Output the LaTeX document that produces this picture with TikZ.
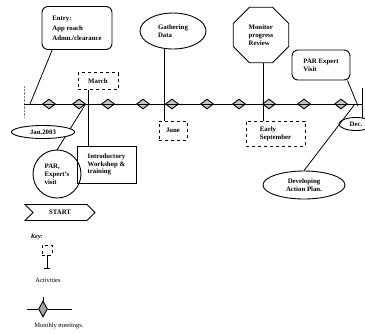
\documentclass[tikz,border=0pt]{standalone}
\usepackage{fontspec}
\setmainfont{Liberation Serif}
\usetikzlibrary{shapes.geometric,shapes.symbols,positioning,calc}

\begin{document}
\begin{tikzpicture}[x=1pt,y=-1pt,
  lbl/.style={font=\fontsize{6.8}{7.8}\selectfont\bfseries,align=left,inner sep=1pt},
  meet/.style={diamond,draw,line width=0.9pt,fill=gray!45,minimum width=13pt,minimum height=10pt,inner sep=0pt},
  actbox/.style={lbl,draw,dashed,line width=0.5pt},
  eventbox/.style={lbl,draw,line width=0.9pt,rounded corners=6pt},
  oval/.style={lbl,ellipse,draw,line width=0.9pt,fill=white,inner sep=0pt},
  link/.style={line width=0.8pt}]
  \useasboundingbox (0,0) rectangle (365,333);

  % timeline with monthly meetings
  \coordinate (t0) at (24,104);
  \coordinate (t1) at (362,104);
  \draw[densely dotted,gray] (24,86) -- (24,118);
  \draw[line width=1pt] (362,88) -- (362,118);
  \foreach \i/\x in {1/49,2/79,3/108,4/143,5/172,6/207,7/239,8/269,9/304,10/341}
    \node[meet] (m\i) at (\x,104) {};
  \draw[line width=1pt] (t0) -- (t1);

  % events above the line
  \node[eventbox,minimum width=70pt,minimum height=43pt,
        font=\fontsize{6.8}{10}\selectfont\bfseries] (entry) at (77,28)
    {Entry:\\App roach\\Admn./clearance};
  \node[oval,minimum width=66pt,minimum height=36pt] (gather) at (173,31)
    {Gathering\\Data};
  \node[lbl,regular polygon,regular polygon sides=8,draw,line width=0.9pt,
        minimum size=60pt] (monitor) at (261,35) {Monitor\\progress\\Review};
  \node[eventbox,minimum width=58pt,minimum height=30pt] (parvisit) at (321,65)
    {PAR Expert\\Visit};
  \node[actbox,minimum width=40pt,minimum height=17pt] (march) at (98,81) {March};

  % activities below the line
  \node[actbox,minimum width=28pt,minimum height=19pt] (june) at (173,130.5) {June};
  \node[actbox,minimum width=59pt,minimum height=25pt] (sept) at (275.5,133.5)
    {Early\\September};
  \node[lbl,draw,line width=0.9pt,minimum width=59pt,minimum height=37pt] (intro)
    at (106.5,164.5) {Introductory\\Workshop \&\\training};

  % connectors
  \coordinate (e0) at (30,104);
  \coordinate (p0) at (85,105);
  \coordinate (v0) at (358,106);
  \coordinate (d0) at (355,104);
  \coordinate (mx) at (88,0);
  \coordinate (gx) at (164,0);
  \coordinate (ox) at (263,0);
  \draw[link] ($(entry.south west)!0.15!(entry.south east)$) -- (e0);
  \draw[link] (march.south -| mx) -- (intro.north -| mx);
  \draw[link] (gather.south -| gx) -- (june.north -| gx);
  \draw[link] (monitor.south -| ox) -- (sept.north -| ox);
  \draw[link] ($(parvisit.south east)+(-3,0)$) -- (v0);
  \draw[link] (p0) -- (57,150);

  \node[oval,minimum width=63pt,minimum height=13pt] (jan) at (43,132) {Jan.2003};
  \node[oval,minimum width=34pt,minimum height=13pt] (dec) at (356,124) {Dec.};
  \node[lbl,circle,draw,line width=0.9pt,minimum size=48pt] (par) at (57,174)
    {PAR,\\Expert's\\visit};
  \node[oval,minimum width=82pt,minimum height=28pt,align=center] (dev) at (304,185)
    {Developing\\Action Plan.};
  \draw[link] (dev.north) -- (d0);

  \node[lbl,signal,draw,line width=0.9pt,signal to=east,signal from=west,
        minimum width=70pt,minimum height=16pt,align=center] (start) at (60,212.5) {START};

  % key
  \node[lbl,font=\fontsize{6.5}{7}\selectfont\bfseries\itshape] (key) at (37,237) {Key:};
  \node[draw,dashed,line width=0.4pt,minimum width=10pt,minimum height=10pt,inner sep=0pt]
    (keyact) at (47,250) {};
  \coordinate (ka) at (47,268);
  \draw[line width=0.5pt] (keyact.south) -- (ka);
  \draw[line width=0.5pt] (44,268) -- (50,268);
  \node[font=\fontsize{6.5}{7}\selectfont] (acttxt) at (48,280) {Activities};
  \node[meet,minimum width=9pt,minimum height=16pt,fill=gray!70] (keymeet) at (43,309) {};
  \coordinate (kl) at (27,309);
  \coordinate (kr) at (72,309);
  \draw[line width=1pt] (kl) -- (keymeet.west) (keymeet.east) -- (kr);
  \draw[line width=0.6pt] (keymeet.north) -- +(0,-4);
  \node[font=\fontsize{6.5}{7}\selectfont] (meettxt) at (59,326) {Monthly meetings.};
\end{tikzpicture}
\end{document}
